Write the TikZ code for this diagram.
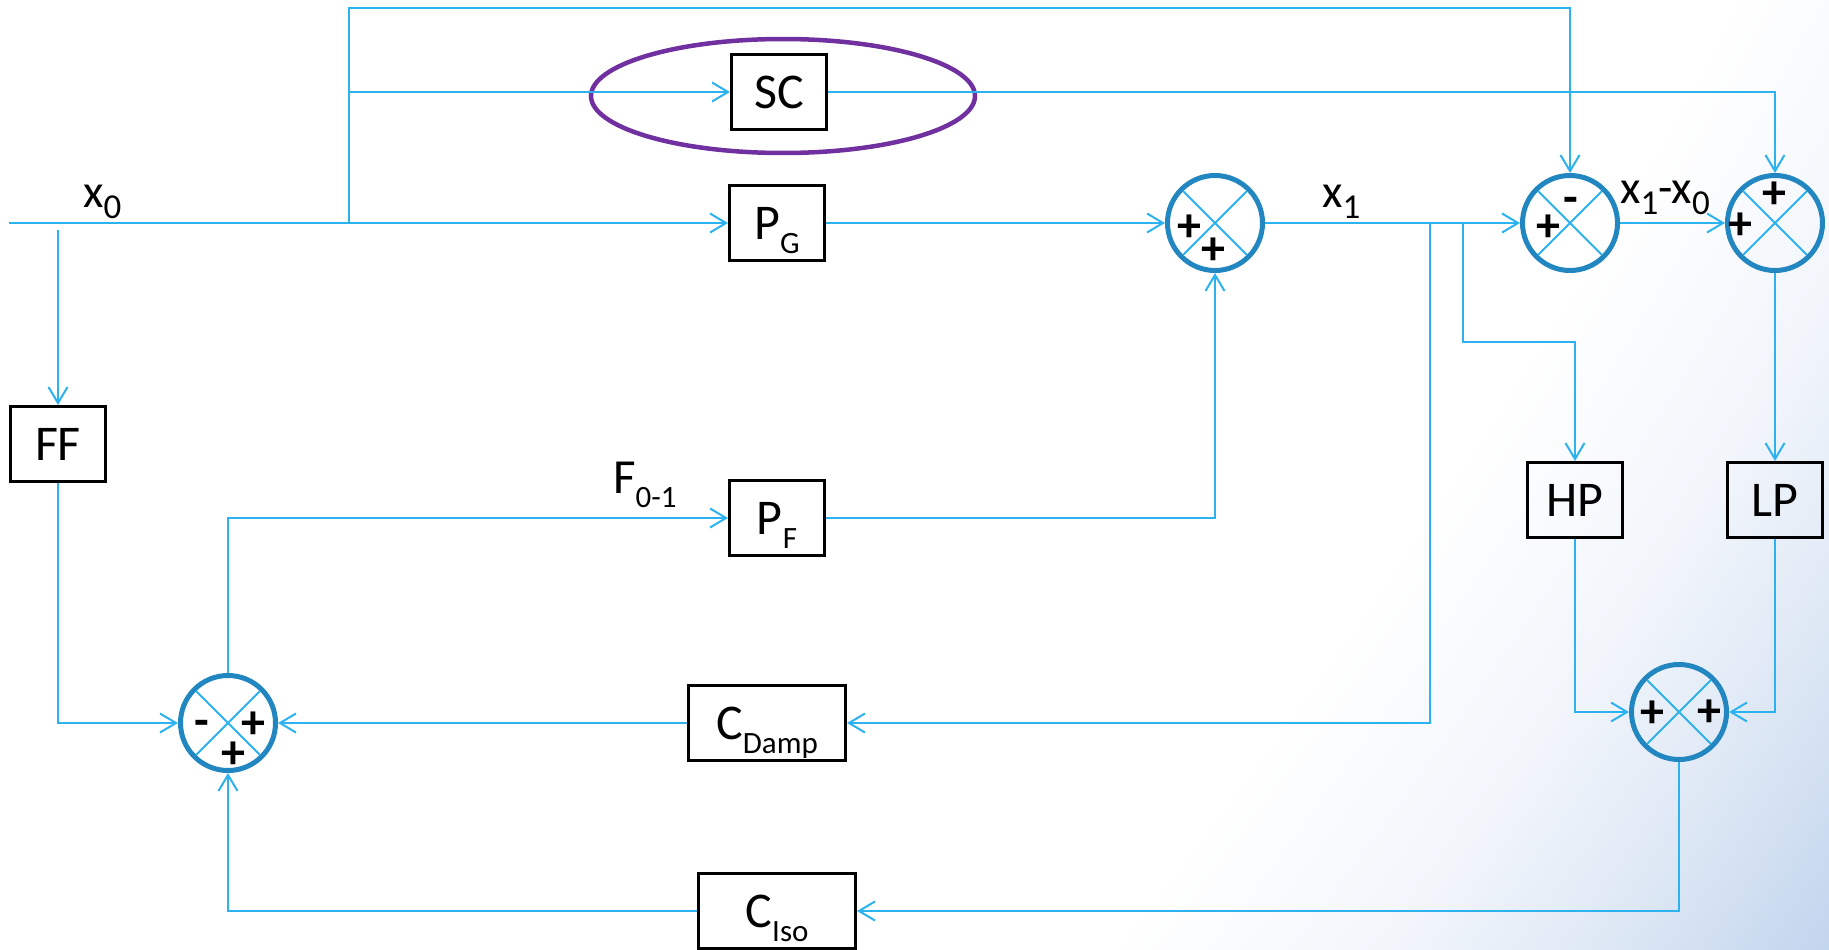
\documentclass[tikz,border=0pt]{standalone}
\usepackage{fontspec}
\setmainfont{Carlito}
\usetikzlibrary{arrows.meta,shapes.geometric}

\definecolor{wireblue}{RGB}{45,178,240}
\definecolor{ringblue}{RGB}{34,134,192}
\definecolor{ovalpurple}{RGB}{112,48,160}
\definecolor{bgA}{RGB}{241,245,251}
\definecolor{bgB}{RGB}{219,230,244}
\definecolor{bgblue}{RGB}{192,212,237}

% soft blue glow towards the lower right corner
\pgfdeclareradialshading{bgglow}{\pgfpoint{0bp}{0bp}}{%
  color(0bp)=(white); color(22.886bp)=(white); color(23.732bp)=(bgA);
  color(24.366bp)=(bgB); color(25bp)=(bgblue); color(50bp)=(bgblue)}

% subscripts: block labels and signal labels
\newcommand{\bsub}[1]{\raisebox{-14pt}[0pt][0pt]{\fontsize{31}{31}\selectfont #1}}
\newcommand{\xsub}[1]{\raisebox{-11pt}{\fontsize{35}{35}\selectfont #1}}

% summing junction: ring with a cross inside
\newcommand{\sumnode}[2]{%
  \node[sumj] (#1) at (#2) {};
  \draw[xline] (#1.center) ++(45:45pt) -- ++(225:90pt);
  \draw[xline] (#1.center) ++(135:45pt) -- ++(-45:90pt);}

\begin{document}
\begin{tikzpicture}[x=1pt,y=-1pt,
  wire/.style={draw=wireblue, line width=2pt},
  flow/.style={wire, -{Straight Barb[length=16pt,width=19pt]}},
  blk/.style={draw=black, line width=3pt, minimum width=95pt, minimum height=75pt,
    inner sep=0pt, font=\fontsize{50}{54}\selectfont},
  wideblk/.style={blk, minimum width=157pt},
  sumj/.style={circle, draw=ringblue, line width=5pt, minimum size=95pt, inner sep=0pt},
  xline/.style={draw=wireblue, line width=2pt},
  sign/.style={inner sep=0pt, font=\fontsize{48}{48}\selectfont\bfseries},
  lbl/.style={inner sep=0pt, anchor=base west, font=\fontsize{47}{50}\selectfont}]

\useasboundingbox (0,0) rectangle (1829,950);
\begin{scope}
  \clip (0,0) rectangle (1829,950);
  \fill[white] (0,0) rectangle (1829,950);
  \shade[shading=bgglow] (-3911,-3040) circle [radius=7000];
\end{scope}

% blocks
\node[blk] (SC) at (779,92) {SC};
\node[draw=ovalpurple, line width=4.5pt, ellipse, minimum width=384pt,
  minimum height=114pt, inner sep=0pt] (scoval) at (783,96) {};
\node[blk] (PG) at (777,223) {P\bsub{G}};
\node[blk] (PF) at (777,518) {P\bsub{F}};
\node[blk] (FF) at (58,444) {FF};
\node[blk] (HP) at (1575,500) {HP};
\node[blk] (LP) at (1775,500) {LP};
\node[wideblk] (CD) at (767,723) {C\bsub{Damp}};
\node[wideblk] (CI) at (777,911) {C\bsub{Iso}};

% summing junctions
\sumnode{S1}{1215,223}
\sumnode{S2}{1570,223}
\sumnode{S3}{1775,223}
\sumnode{S4}{1679,712}
\sumnode{S5}{228,723}

% signs
\node[sign] at (1189,228) {+};
\node[sign] at (1213,251) {+};
\node[sign, anchor=base] at (1571,213) {-};
\node[sign] at (1548,228) {+};
\node[sign] at (1774,195) {+};
\node[sign] at (1740,226) {+};
\node[sign] at (1652,714) {+};
\node[sign] at (1709,713) {+};
\node[sign, anchor=base] at (202,736) {-};
\node[sign] at (253,725) {+};
\node[sign] at (233,755) {+};

% branch points
\coordinate (in) at (9,223);
\coordinate (tapTop) at (349,223);
\coordinate (tapSC) at (349,92);
\coordinate (tapFF) at (58,230);
\coordinate (tapD) at (1430,223);
\coordinate (tapH) at (1463,223);

% connectors
\draw[flow] (in) -- (PG.west);
\draw[wire] (tapTop) -- (tapSC);
\draw[flow] (tapSC) -- ++(0,-84) -| (S2.north);
\draw[flow] (tapSC) -- (SC.west);
\draw[flow] (SC.east) -| (S3.north);
\draw[flow] (tapFF) -- (FF.north);
\draw[flow] (PG.east) -- (S1.west);
\draw[flow] (S1.east) -- (S2.west);
\draw[flow] (S2.east) -- (S3.west);
\draw[flow] (tapD) |- (CD.east);
\draw[flow] (tapH) -- ++(0,119) -| (HP.north);
\draw[flow] (S3.south) -- (LP.north);
\draw[flow] (HP.south) |- (S4.west);
\draw[flow] (LP.south) |- (S4.east);
\draw[flow] (S4.south) |- (CI.east);
\draw[flow] (CI.west) -| (S5.south);
\draw[flow] (CD.west) -- (S5.east);
\draw[flow] (FF.south) |- (S5.west);
\draw[flow] (S5.north) |- (PF.west);
\draw[flow] (PF.east) -| (S1.south);

% signal labels
\node[lbl] (lx0) at (83,207) {x\xsub{0}};
\node[lbl] (lx1) at (1322,207) {x\xsub{1}};
\node[lbl] (ldx) at (1620,203) {x\xsub{1}-x\xsub{0}};
\node[lbl, font=\fontsize{49}{52}\selectfont] (lF) at (613,493) {F\bsub{0-1}};
\end{tikzpicture}
\end{document}
